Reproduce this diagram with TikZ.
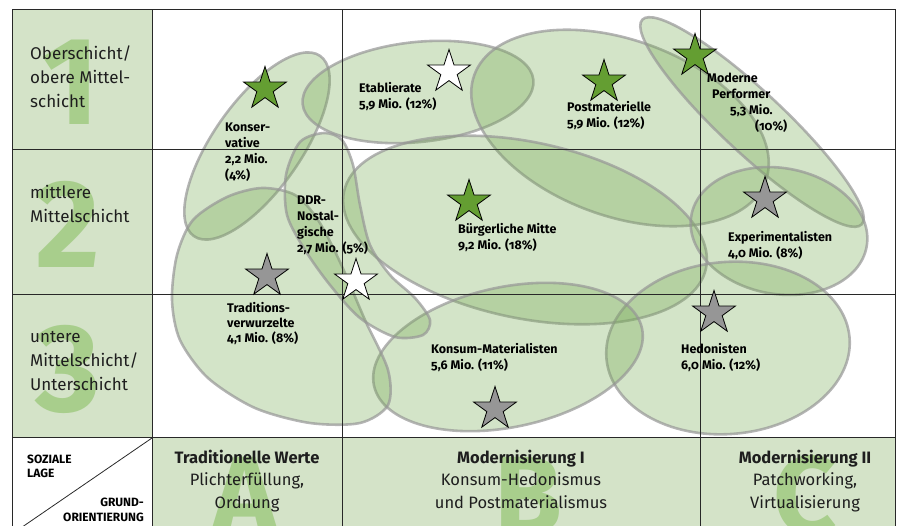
\documentclass[tikz,border=0pt]{standalone}
\usepackage{fontspec}
\setmainfont{Fira Sans}[Numbers=OldStyle]
\newfontfamily\bignumfont{Fira Sans}[Numbers=Lining]
\usetikzlibrary{shapes.geometric}
\definecolor{milieugreen}{RGB}{118,170,84}
\definecolor{panelfill}{RGB}{212,227,200}
\definecolor{bigglyph}{RGB}{168,206,140}
\definecolor{stargreen}{RGB}{100,158,50}
\definecolor{stargray}{RGB}{150,150,150}
\definecolor{rimgray}{RGB}{150,150,150}
\definecolor{gridcol}{RGB}{40,40,40}
\definecolor{txtcol}{RGB}{30,30,30}
\tikzset{
  milieu/.style   = {fill=milieugreen, fill opacity=0.32,
                     draw=rimgray, draw opacity=0.7, line width=2.6pt},
  gridline/.style = {draw=gridcol, line width=1pt},
  milstar/.style  = {star, star points=5, star point ratio=2.618,
                     minimum size=45pt, inner sep=0pt,
                     draw=black, line width=0.8pt, fill=#1},
  mlabel/.style   = {anchor=base west, align=left, inner sep=0pt,
                     font=\fontsize{12.5}{16}\selectfont\bfseries},
  rowlabel/.style = {anchor=base west, align=left, inner sep=0pt, text=txtcol,
                     font=\fontsize{17}{24}\selectfont},
  bignum/.style   = {anchor=base, inner sep=0pt, text=bigglyph,
                     font=\bignumfont\fontsize{125}{125}\selectfont\bfseries},
  colhead/.style  = {anchor=base, align=center, inner sep=0pt, text=txtcol,
                     font=\fontsize{16.5}{22.5}\selectfont},
}

\begin{document}
\begin{tikzpicture}[x=1pt, y=-1pt]

  \useasboundingbox (0,0) rectangle (900,526);
  \clip (0,0) rectangle (900,526);

  % ── panels: social class column and orientation row ──
  \fill[panelfill] (12,10) rectangle (152,438);
  \fill[panelfill] (152,438) rectangle (895,540);

  % big background glyphs
  \node[bignum] (num1) at (70,125) {1};
  \node[bignum] (num2) at (68,268) {2};
  \node[bignum] (num3) at (68,412) {3};
  \node[bignum, font=\bignumfont\fontsize{110}{110}\selectfont\bfseries] (letA) at (245,533) {A};
  \node[bignum, font=\bignumfont\fontsize{110}{110}\selectfont\bfseries] (letB) at (528,533) {B};
  \node[bignum, font=\bignumfont\fontsize{110}{110}\selectfont\bfseries] (letC) at (805,533) {C};

  % ══════════════════════════════════════════════
  %  MILIEUS
  % ══════════════════════════════════════════════
  \draw[milieu, rotate around={55:(257,146)}]
    (257,146) ellipse [x radius=110pt, y radius=44pt];   % Konservative
  \draw[milieu, rotate around={6:(418,92)}]
    (418,92) ellipse [x radius=116pt, y radius=50pt];    % Etablierate
  \draw[milieu, rotate around={-20:(620,128)}]
    (620,128) ellipse [x radius=155pt, y radius=88pt];   % Postmaterielle
  \draw[milieu, rotate around={-43:(752,122)}]
    (752,122) ellipse [x radius=150pt, y radius=31pt];   % Moderne Performer
  \draw[milieu, rotate around={-12:(525,230)}]
    (525,230) ellipse [x radius=185pt, y radius=88pt];   % Buergerliche Mitte
  \draw[milieu, rotate around={-10:(779,231)}]
    (779,231) ellipse [x radius=89pt, y radius=63pt];    % Experimentalisten
  \draw[milieu, rotate around={5:(728,348)}]
    (728,348) ellipse [x radius=122pt, y radius=86pt];   % Hedonisten
  \draw[milieu, rotate around={12:(508,357)}]
    (508,357) ellipse [x radius=137pt, y radius=70pt];   % Konsum-Materialisten

  % Traditionsverwurzelte
  \draw[milieu] plot[smooth cycle] coordinates {
    (177,255) (193,220) (227,197) (262,188) (295,195) (318,220)
    (340,262) (365,320) (388,370) (388,405) (360,423) (310,423)
    (255,408) (208,378) (180,340) (172,300)};

  % DDR-Nostalgische
  \draw[milieu] plot[smooth cycle] coordinates {
    (300,142) (286,175) (287,215) (305,250) (330,285) (360,318)
    (395,337) (423,335) (430,320) (415,298) (390,275) (370,245)
    (360,205) (353,165) (342,140) (324,133)};

  % ── grid ──
  \draw[gridline] (152,10) -- (152,540);
  \draw[gridline] (342,10) -- (342,540);
  \draw[gridline] (700,10) -- (700,540);
  \draw[gridline] (12,150) -- (895,150);
  \draw[gridline] (12,295) -- (895,295);
  \draw[gridline] (12,438) -- (895,438);
  \draw[gridline] (12,10) rectangle (895,534);
  \draw[gridline, line width=0.8pt] (12,534) -- (152,438);

  % ── stars ──
  \node[milstar=stargreen] (stKons) at (265,89)  {};
  \node[milstar=white]     (stEtab) at (449,72)  {};
  \node[milstar=stargreen] (stPost) at (604,82)  {};
  \node[milstar=stargreen] (stMoPe) at (695,56)  {};
  \node[milstar=stargreen] (stBuer) at (469,202) {};
  \node[milstar=stargray]  (stExpe) at (765,199) {};
  \node[milstar=white]     (stDDR)  at (356,281) {};
  \node[milstar=stargray]  (stTrad) at (267,276) {};
  \node[milstar=stargray]  (stKoMa) at (495,409) {};
  \node[milstar=stargray]  (stHedo) at (714,313) {};

  % ── milieu labels (anchored at the last line) ──
  \node[mlabel] (lbKons) at (225,180) {Konser-\\vative\\2,2 Mio.\\(4\%)};
  \node[mlabel] (lbEtab) at (359,109) {Etablierate\\5,9 Mio. (12\%)};
  \node[mlabel] (lbPost) at (567,128) {Postmaterielle\\5,9 Mio. (12\%)};
  \node[mlabel] (lbMoPe) at (707,131) {Moderne\\\hspace*{5pt}Performer\\\hspace*{23pt}5,3 Mio.\\\hspace*{48pt}(10\%)};
  \node[mlabel] (lbBuer) at (458,250) {Bürgerliche Mitte\\9,2 Mio. (18\%)};
  \node[mlabel] (lbExpe) at (728,258) {Experimentalisten\\4,0 Mio. (8\%)};
  \node[mlabel] (lbDDR)  at (297,253) {DDR-\\Nostal-\\gische\\2,7 Mio. (5\%)};
  \node[mlabel, font=\fontsize{12.5}{15}\selectfont\bfseries]
    (lbTrad) at (227,343) {Traditions-\\verwurzelte\\4,1 Mio. (8\%)};
  \node[mlabel] (lbKoMa) at (431,370) {Konsum-Materialisten\\5,6 Mio. (11\%)};
  \node[mlabel] (lbHedo) at (681,370) {Hedonisten\\6,0 Mio. (12\%)};

  % ── social class rows ──
  \node[rowlabel] (row1) at (30,108) {Oberschicht/\\obere Mittel-\\schicht};
  \node[rowlabel] (row2) at (30,223) {mittlere\\Mittelschicht};
  \node[rowlabel] (row3) at (30,391) {untere\\Mittelschicht/\\Unterschicht};

  % ── orientation columns ──
  \node[colhead] (colA) at (247,508) {\textbf{Traditionelle Werte}\\Plichterfüllung,\\Ordnung};
  \node[colhead] (colB) at (521,508) {\textbf{Modernisierung I}\\Konsum-Hedonismus\\und Postmaterialismus};
  \node[colhead] (colC) at (805,508) {\textbf{Modernisierung II}\\Patchworking,\\Virtualisierung};

  % corner cell
  \node[mlabel, font=\fontsize{12}{14.5}\selectfont\bfseries] (lage) at (27,478) {SOZIALE\\LAGE};
  \node[mlabel, anchor=base east, align=right, font=\fontsize{12}{14.5}\selectfont\bfseries]
    (orient) at (144,521) {GRUND-\\ORIENTIERUNG};

\end{tikzpicture}
\end{document}
